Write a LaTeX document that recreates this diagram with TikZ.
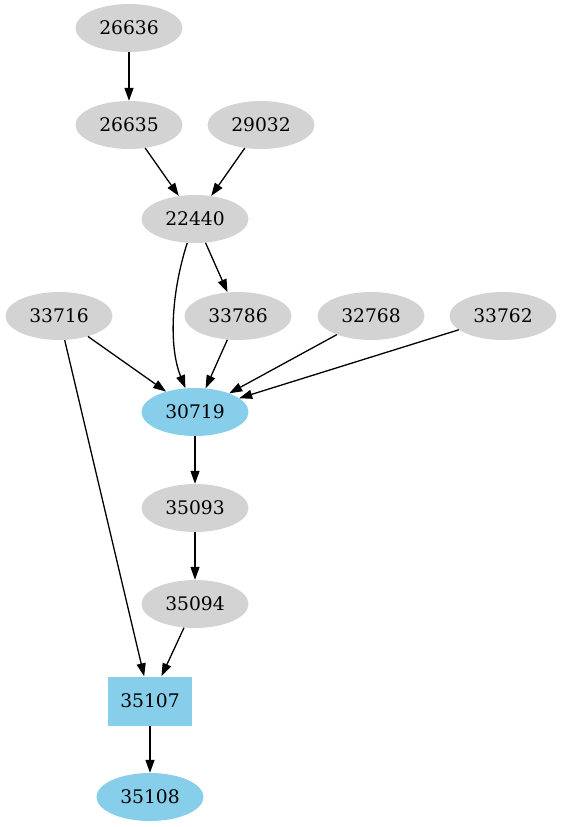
\documentclass[tikz,border=0pt]{standalone}
\usepackage{fontspec}
\setmainfont{DejaVu Serif}
\usetikzlibrary{shapes.geometric, arrows.meta}
\definecolor{graynode}{RGB}{211,211,211}
\definecolor{skynode}{RGB}{135,206,235}

\begin{document}
\begin{tikzpicture}[x=1pt, y=-1pt, >={Triangle[length=13pt,width=9pt]},
    gnode/.style={ellipse, fill=graynode, minimum width=107pt, minimum height=48pt, inner sep=0pt, font=\fontsize{18.7}{20}\selectfont},
    bnode/.style={gnode, fill=skynode},
    bbox/.style={rectangle, fill=skynode, minimum width=84pt, minimum height=49pt, inner sep=0pt, font=\fontsize{18.7}{20}\selectfont},
    edge/.style={->, line width=1.3pt}]
  \useasboundingbox (0,0) rectangle (563,827);
  % --- nodes ---
  \node[gnode] (N26636) at (129,28) {26636};
  \node[gnode] (N26635) at (129,125) {26635};
  \node[gnode] (N29032) at (261,125) {29032};
  \node[gnode] (N22440) at (195,219) {22440};
  \node[gnode] (N33716) at (59,316) {33716};
  \node[gnode] (N33786) at (238,316) {33786};
  \node[gnode] (N32768) at (371,316) {32768};
  \node[gnode] (N33762) at (503,316) {33762};
  \node[bnode] (N30719) at (195,412) {30719};
  \node[gnode] (N35093) at (195,508) {35093};
  \node[gnode] (N35094) at (195,604) {35094};
  \node[bbox]  (N35107) at (150,701) {35107};
  \node[bnode] (N35108) at (150,797) {35108};
  % --- edges ---
  \draw[edge] (N26636) -- (N26635);
  \draw[edge] (N26635) -- (N22440);
  \draw[edge] (N29032) -- (N22440);
  \draw[edge] (N22440) .. controls (172,290) and (168,345) .. (N30719);
  \draw[edge] (N22440) -- (N33786);
  \draw[edge] (N33716) -- (N30719);
  \draw[edge] (N33786) -- (N30719);
  \draw[edge] (N32768) -- (N30719);
  \draw[edge] (N33762) -- (N30719);
  \draw[edge] (N33716) -- (N35107);
  \draw[edge] (N30719) -- (N35093);
  \draw[edge] (N35093) -- (N35094);
  \draw[edge] (N35094) -- (N35107);
  \draw[edge] (N35107) -- (N35108);
\end{tikzpicture}
\end{document}
